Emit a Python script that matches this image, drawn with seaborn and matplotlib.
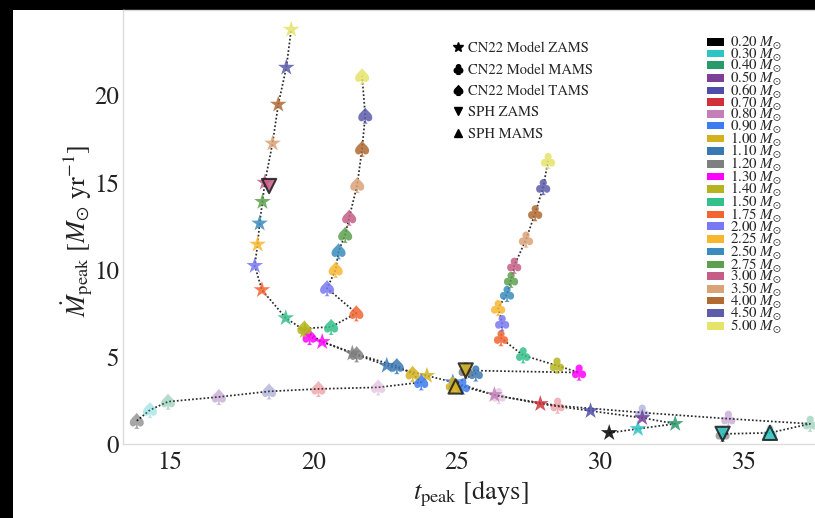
import matplotlib
matplotlib.use("Agg")
import numpy as np
import pandas as pd
import matplotlib.pyplot as plt
import seaborn as sns
from matplotlib.lines import Line2D
from matplotlib.patches import Patch, Rectangle

# ---------------- data ----------------
masses = [0.20, 0.30, 0.40, 0.50, 0.60, 0.70, 0.80, 0.90, 1.00, 1.10, 1.20, 1.30,
          1.40, 1.50, 1.75, 2.00, 2.25, 2.50, 2.75, 3.00, 3.50, 4.00, 4.50, 5.00]
mass_colors = ["#000000", "#2ec4c4", "#2a9a6a", "#7e3f98", "#4e4ea8", "#d0303a",
               "#c47fb8", "#3c7cf0", "#d4b21e", "#3a78b4", "#7f7f7f", "#ff00ff",
               "#b5b41e", "#33c08a", "#f26430", "#7878f2", "#f8b62e", "#3a8cbc",
               "#5ca04e", "#c45e86", "#daa277", "#b06a32", "#5c5caa", "#e6e36a"]

# CN22 Model ZAMS (stars)
zams_t = [30.30, 31.30, 32.60, 31.45, 29.65, 27.90, 26.30, 24.85, 23.95, 22.55, 21.35, 20.30,
          19.70, 19.03, 18.20, 17.95, 18.05, 18.12, 18.22, 18.30, 18.57, 18.77, 19.05, 19.22]
zams_m = [0.64, 0.87, 1.16, 1.50, 1.90, 2.30, 2.82, 3.55, 3.92, 4.50, 5.20, 5.86,
          6.50, 7.23, 8.84, 10.23, 11.45, 12.66, 13.90, 15.00, 17.25, 19.48, 21.60, 23.78]

# CN22 Model MAMS (clubs)
mams_t = [34.25, 35.90, 37.30, 34.45, 31.45, 28.50, 26.45, 25.20, 24.85, 25.65, 25.30, 29.25,
          28.48, 27.30, 26.53, 26.57, 26.43, 26.74, 26.88, 26.99, 27.40, 27.72, 28.00, 28.17]
mams_m = [0.58, 0.64, 1.16, 1.45, 1.80, 2.20, 2.75, 3.30, 3.38, 4.05, 4.22, 4.10,
          4.50, 5.09, 6.07, 6.94, 7.80, 8.61, 9.42, 10.23, 11.73, 13.24, 14.74, 16.24]

# CN22 Model TAMS (spades)
tams_t = [13.84, 14.30, 14.93, 16.70, 18.45, 20.17, 22.25, 23.75, 23.45, 22.90, 21.50, 19.86,
          19.68, 20.61, 21.49, 20.47, 20.77, 20.87, 21.10, 21.24, 21.52, 21.69, 21.80, 21.69]
tams_m = [1.33, 1.95, 2.43, 2.70, 3.02, 3.16, 3.25, 3.54, 4.03, 4.47, 5.15, 6.14,
          6.63, 6.72, 7.50, 8.94, 10.00, 11.06, 12.00, 12.99, 14.86, 16.94, 18.84, 21.10]

# SPH simulations
sph_zams_mass = [0.30, 1.00, 3.00]
sph_zams_t = [34.25, 25.30, 18.45]
sph_zams_m = [0.58, 4.22, 14.80]
sph_mams_mass = [0.30, 1.00]
sph_mams_t = [35.90, 24.95]
sph_mams_m = [0.64, 3.30]

x_ticks = [15, 20, 25, 30, 35]
y_ticks = [0, 5, 10, 15, 20]

# ---------------- style ----------------
sns.set_theme(style="white")
plt.rcParams["font.family"] = ["STIXGeneral", "DejaVu Serif"]
plt.rcParams["mathtext.fontset"] = "stix"

labels = [f"{m:.2f}" for m in masses]
palette = dict(zip(labels, mass_colors))

fig = plt.figure(figsize=(8.15, 5.18), dpi=100, facecolor="black")
fig.add_artist(Rectangle((13 / 815, 0), 1, 508 / 518, transform=fig.transFigure,
                         facecolor="white", edgecolor="none", zorder=-10))
ax = fig.add_axes([123 / 815, 74 / 518, 692 / 815, 434 / 518])
ax.set_facecolor("white")

CLUB = r"$\clubsuit$"
SPADE = r"$\spadesuit$"


def draw_track(ts, ms, marker, size, fade_max):
    df = pd.DataFrame({"t": ts, "m": ms, "mass": labels, "M": masses})
    sns.lineplot(data=df, x="t", y="m", sort=False, estimator=None, color="#2a2a2a",
                 lw=1.25, linestyle=(0, (1, 1.2)), ax=ax, zorder=2)
    faded = df[df["M"] <= fade_max]
    solid = df[df["M"] > fade_max]
    if len(faded):
        sns.scatterplot(data=faded, x="t", y="m", hue="mass", palette=palette, marker=marker,
                        s=size, alpha=0.35, linewidth=0, legend=False, ax=ax, zorder=3)
    sns.scatterplot(data=solid, x="t", y="m", hue="mass", palette=palette, marker=marker,
                    s=size, alpha=0.85, linewidth=0, legend=False, ax=ax, zorder=3)


draw_track(zams_t, zams_m, "*", 160, -1)
draw_track(mams_t, mams_m, CLUB, 135, 0.85)
draw_track(tams_t, tams_m, SPADE, 135, 0.85)

sz = pd.DataFrame({"t": sph_zams_t, "m": sph_zams_m, "mass": [f"{m:.2f}" for m in sph_zams_mass]})
sm = pd.DataFrame({"t": sph_mams_t, "m": sph_mams_m, "mass": [f"{m:.2f}" for m in sph_mams_mass]})
sns.scatterplot(data=sz, x="t", y="m", hue="mass", palette=palette, marker="v", s=105,
                edgecolor="#1a1a1a", linewidth=1.5, alpha=0.85, legend=False, ax=ax, zorder=4)
sns.scatterplot(data=sm, x="t", y="m", hue="mass", palette=palette, marker="^", s=105,
                edgecolor="#1a1a1a", linewidth=1.5, alpha=0.85, legend=False, ax=ax, zorder=4)

# ---------------- axes ----------------
ax.set_xlim(13.36, 37.47)
ax.set_ylim(0, 24.9)
ax.set_xticks(x_ticks)
ax.set_yticks(y_ticks)
ax.tick_params(axis="both", length=0, labelsize=18, colors="#222222")
ax.tick_params(axis="x", pad=5)
ax.tick_params(axis="y", pad=3)
for s in ["left", "bottom", "top"]:
    ax.spines[s].set_color("#dcdcdc")
    ax.spines[s].set_linewidth(1.0)
ax.spines["right"].set_visible(False)

ax.set_xlabel(r"$t_{\rm peak}$ [days]", fontsize=19, color="#222222")
ax.set_ylabel(r"$\dot{M}_{\rm peak}$ [$M_{\odot}$ yr$^{-1}$]", fontsize=19, color="#222222")
ax.xaxis.set_label_coords(0.503, -0.08)
ax.yaxis.set_label_coords(-0.04, 0.49)

# ---------------- legends ----------------
shape_handles = [
    Line2D([], [], ls="none", marker="*", color="black", markersize=7),
    Line2D([], [], ls="none", marker=CLUB, color="black", markersize=7),
    Line2D([], [], ls="none", marker=SPADE, color="black", markersize=7),
    Line2D([], [], ls="none", marker="v", color="black", markersize=6),
    Line2D([], [], ls="none", marker="^", color="black", markersize=6),
]
shape_labels = ["CN22 Model ZAMS", "CN22 Model MAMS", "CN22 Model TAMS", "SPH ZAMS", "SPH MAMS"]
leg1 = fig.legend(shape_handles, shape_labels, loc="upper left",
                  bbox_to_anchor=(448 / 815, 1 - 36 / 518), frameon=False, fontsize=10.5,
                  handlelength=0.6, handletextpad=0.4, labelspacing=0.55, borderaxespad=0)

mass_handles = [Patch(facecolor=c, edgecolor="none") for c in mass_colors]
mass_labels_txt = [f"{m:.2f} $M_{{\\odot}}$" for m in masses]
leg2 = fig.legend(mass_handles, mass_labels_txt, loc="upper left",
                  bbox_to_anchor=(701 / 815, 1 - 29 / 518), frameon=False, fontsize=10.8,
                  handlelength=1.1, handleheight=0.4, handletextpad=0.45,
                  labelspacing=-0.357, borderaxespad=0)

fig.savefig("out.png", dpi=100)
